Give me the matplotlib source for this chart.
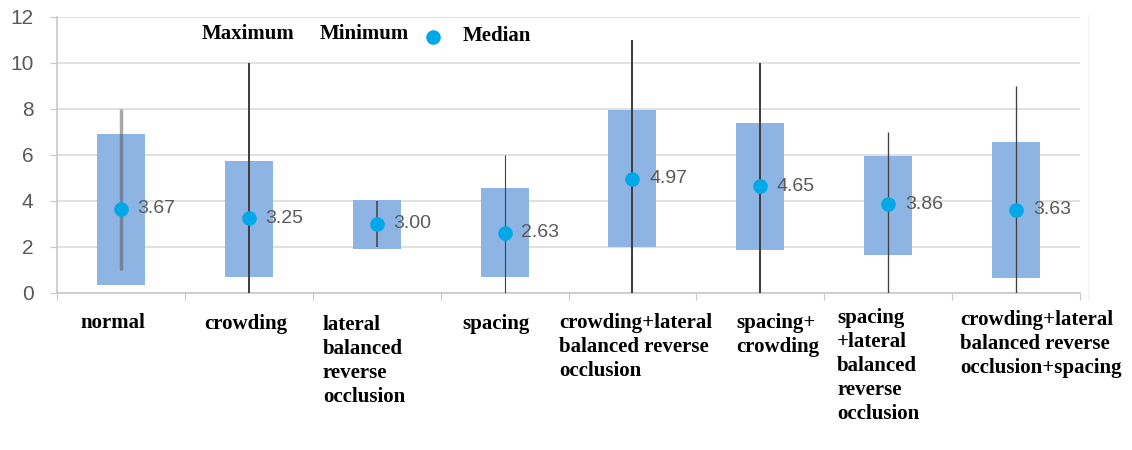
import numpy as np
import matplotlib.pyplot as plt
from matplotlib.lines import Line2D

# data
categories = [
    "normal",
    "crowding",
    "lateral\nbalanced\nreverse\nocclusion",
    "spacing",
    "crowding+lateral\nbalanced reverse\nocclusion",
    "spacing+\ncrowding",
    "spacing\n+lateral\nbalanced\nreverse\nocclusion",
    "crowding+lateral\nbalanced reverse\nocclusion+spacing",
]
box_low = [0.35, 0.7, 1.9, 0.7, 2.0, 1.85, 1.65, 0.65]
box_high = [6.9, 5.75, 4.05, 4.55, 7.95, 7.4, 5.97, 6.58]
minimum = [1, 0, 2, 0, 0, 0, 0, 0]
maximum = [8, 10, 4, 6, 11, 10, 7, 9]
median = [3.67, 3.25, 3.00, 2.63, 4.97, 4.65, 3.86, 3.63]

# styling
BOX_C = "#8EB4E3"
DOT_C = "#00A8E8"
GRID_C = "#DCDCDC"
TXT_C = "#595959"
line_w = [2.5, 1.45, 1.1, 0.8, 1.45, 1.45, 0.95, 0.95]
line_c = ["#555555", "#404040", "#404040", "#404040", "#404040", "#404040", "#404040", "#404040"]
line_a = [0.5, 1, 1, 1, 1, 1, 1, 1]
# label placement, relative to category centre (labels are not centred in the original)
label_dx = [-0.32, -0.35, -0.42, -0.33, -0.575, -0.19, -0.40, -0.44]
label_dy_px = [1, 2, 3, 2, 1, 1, -4, -2]

W, H = 1132, 450
fig = plt.figure(figsize=(W / 100, H / 100), dpi=100)
ax = fig.add_axes([57 / W, 1 - 293 / H, (1080 - 57) / W, 276 / H])

x = np.arange(len(categories))
lo = np.array(box_low)
hi = np.array(box_high)

ax.bar(x, hi - lo, bottom=lo, width=0.375, color=BOX_C, zorder=2)
for i in x:
    ax.vlines(i, minimum[i], maximum[i], colors=line_c[i], linewidths=line_w[i],
              alpha=line_a[i], zorder=3)
ax.scatter(x, median, s=110, color=DOT_C, zorder=4, linewidths=0)
for i in x:
    ax.annotate(f"{median[i]:.2f}", (i, median[i]), xytext=(12, 0),
                textcoords="offset points", va="center", ha="left",
                fontsize=14, color=TXT_C, family="Liberation Sans", zorder=5)

ax.set_xlim(-0.5, len(categories) - 0.5)
ax.set_ylim(0, 12)
ax.set_yticks(np.arange(0, 13, 2))
ax.set_xticks(np.arange(-0.5, len(categories)))
ax.set_xticklabels([])
ax.yaxis.grid(True, color=GRID_C, lw=1.2, zorder=0)
ax.set_axisbelow(True)

for s in ["top", "right"]:
    ax.spines[s].set_visible(False)
ax.spines["left"].set_color("#C8C8C8")
ax.spines["bottom"].set_color("#C8C8C8")
ax.spines["left"].set_linewidth(1.2)
ax.spines["bottom"].set_linewidth(1.2)
ax.tick_params(axis="y", length=5, color="#C8C8C8", pad=12, labelsize=15,
               labelcolor=TXT_C)
ax.tick_params(axis="x", length=5, color="#C8C8C8")
for t in ax.get_yticklabels():
    t.set_family("Liberation Sans")

# category labels
px_per_unit = 276 / 12
for i, lab in enumerate(categories):
    ax.text(i + label_dx[i], -0.82 - label_dy_px[i] / px_per_unit, lab,
            ha="left", va="top", fontsize=15, fontweight="bold",
            family="Liberation Serif", linespacing=1.27, clip_on=False)

# legend drawn by hand, as in the original
leg = dict(fontsize=15, fontweight="bold", family="Liberation Serif",
           va="center", ha="left", transform=fig.transFigure)
fig.text(202 / W, 1 - 34 / H, "Maximum", **leg)
fig.text(320 / W, 1 - 34 / H, "Minimum", **leg)
fig.text(463 / W, 1 - 36 / H, "Median", **leg)
fig.add_artist(Line2D([433 / W], [1 - 37 / H], marker="o", markersize=10.5,
                      color=DOT_C, markeredgewidth=0, transform=fig.transFigure))

# faint chart border on the right
fig.add_artist(Line2D([1088 / W, 1088 / W], [1 - 15 / H, 1 - 300 / H],
                      color="#F2F2F2", lw=1, transform=fig.transFigure))

fig.savefig("out.png", dpi=100)
